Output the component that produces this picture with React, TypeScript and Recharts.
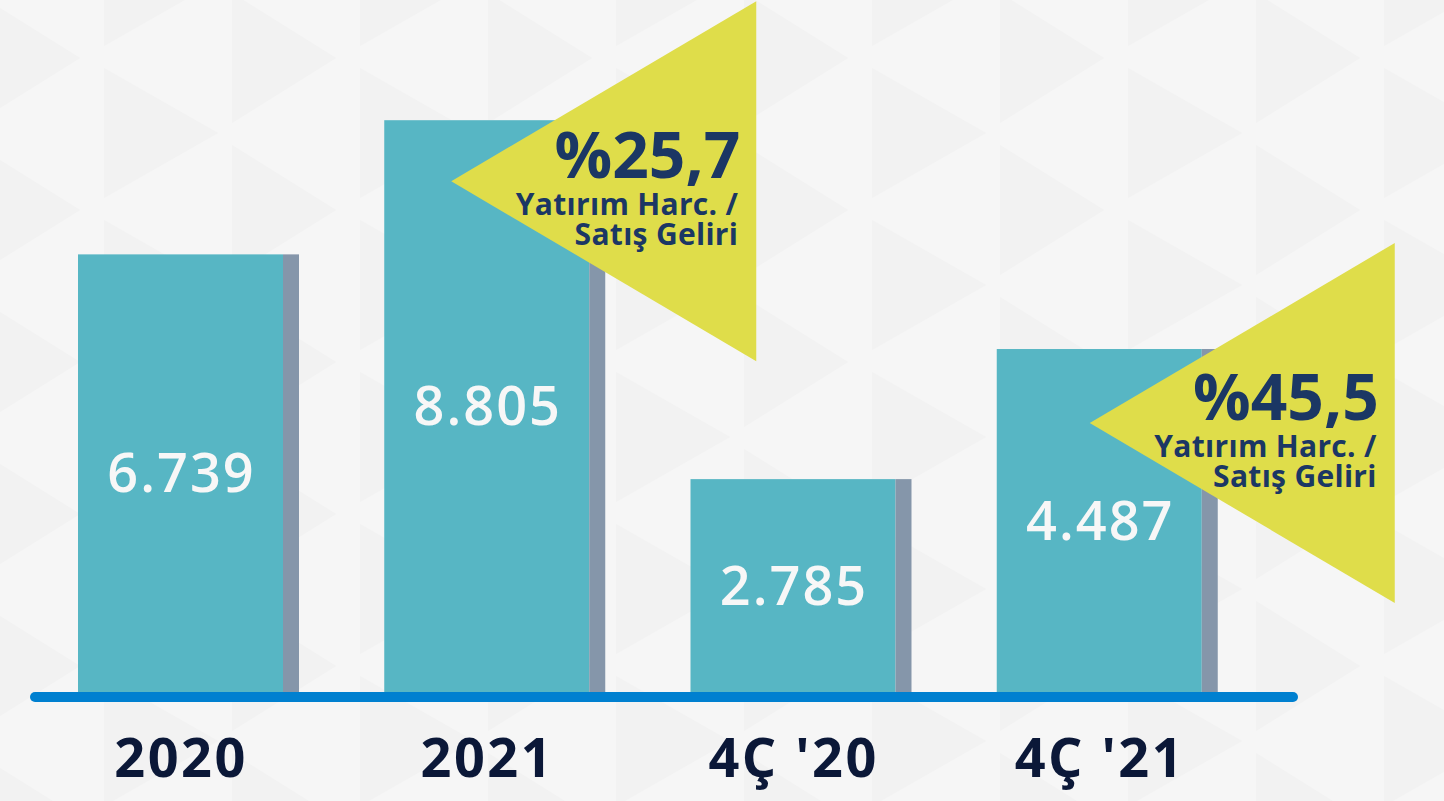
import React from "react";
import { BarChart, Bar, XAxis, YAxis, LabelList } from "recharts";

const categories = ["2020", "2021", "4Ç '20", "4Ç '21"];
const annualValues = [6739, 8805, null, null];
const quarterValues = [null, null, 2785, 4487];
const valueLabels = ["6.739", "8.805", "2.785", "4.487"];
const ratioLabels = [null, "%25,7", null, "%45,5"];
const ratioCaption = ["Yatırım Harc. /", "Satış Geliri"];

const TEAL = "#57b6c4";
const SHADE = "#8596aa";
const LINE = "#0080d0";
const NAVY = "#0b1838";
const CALLOUT_TEXT = "#1b3764";
const YELLOW = "#dfdd4a";
const SHADE_W = 16;
const FONT = '"Open Sans", "Noto Sans", sans-serif';

// arrow tip of the yellow callout, relative to the top-right corner of the teal face
const calloutTip: Record<string, { dx: number; dy: number }> = {
  "%25,7": { dx: -138, dy: 61 },
  "%45,5": { dx: -112, dy: 74 },
};

const data = categories.map((name, i) => ({
  name,
  annual: annualValues[i],
  quarter: quarterValues[i],
  annualLabel: annualValues[i] != null ? valueLabels[i] : null,
  quarterLabel: quarterValues[i] != null ? valueLabels[i] : null,
  ratio: ratioLabels[i],
}));

const box = (props: any) => {
  const vb = props.viewBox ?? props;
  return { x: vb.x, y: vb.y, width: vb.width, height: vb.height };
};

const ShadedBar = (props: any) => {
  const { x, y, width, height } = props;
  if (!height || height <= 0) return null;
  return (
    <g>
      <rect x={x} y={y} width={width - SHADE_W} height={height} fill={TEAL} />
      <rect x={x + width - SHADE_W} y={y} width={SHADE_W} height={height} fill={SHADE} />
    </g>
  );
};

const ValueLabel = (props: any) => {
  if (props.value == null) return null;
  const { x, y, width, height } = box(props);
  return (
    <text
      x={x + (width - SHADE_W) / 2 + 1}
      y={y + height / 2 + 19}
      textAnchor="middle"
      fill="#f7f7f7"
      fontSize={54}
      fontWeight={600}
      letterSpacing={2}
      fontFamily={FONT}
    >
      {props.value}
    </text>
  );
};

const Callout = (props: any) => {
  const tip = props.value != null ? calloutTip[props.value] : null;
  if (!tip) return null;
  const { x, y, width } = box(props);
  const ax = x + width - SHADE_W + tip.dx;
  const ay = y + tip.dy;
  const tx = ax + 289;
  const caption = {
    textAnchor: "end" as const,
    fill: CALLOUT_TEXT,
    fontSize: 30,
    fontWeight: 700,
    letterSpacing: 0.3,
    fontFamily: FONT,
  };
  return (
    <g>
      <polygon points={`${ax},${ay} ${ax + 305},${ay - 180} ${ax + 305},${ay + 180}`} fill={YELLOW} />
      <text x={tx} y={ay - 3} textAnchor="end" fill={CALLOUT_TEXT} fontSize={64} fontWeight={700} fontFamily={FONT}>
        {props.value}
      </text>
      <text x={tx - 2} y={ay + 34} {...caption}>
        {ratioCaption[0]}
      </text>
      <text x={tx - 2} y={ay + 64} {...caption}>
        {ratioCaption[1]}
      </text>
    </g>
  );
};

const CategoryTick = (props: any) => {
  const { x, y, payload } = props;
  return (
    <text
      x={x - SHADE_W / 2 + 1}
      y={y + 85}
      textAnchor="middle"
      fill={NAVY}
      fontSize={54}
      fontWeight={700}
      letterSpacing={2.5}
      fontFamily={FONT}
    >
      {payload.value}
    </text>
  );
};

function Backdrop() {
  return (
    <svg width={1444} height={801} style={{ position: "absolute", left: 0, top: 0 }}>
      <defs>
        <pattern id="tri" x={-24} y={0} width={256} height={152} patternUnits="userSpaceOnUse">
          <rect width={256} height={152} fill="#f6f6f6" />
          <polygon points="0,-94 104,-94 0,-29" fill="#f2f2f2" />
          <polygon points="0,-7 104,58 0,123" fill="#f2f2f2" />
          <polygon points="0,145 104,210 0,275" fill="#f2f2f2" />
          <polygon points="128,-84 242,-19 128,46" fill="#f2f2f2" />
          <polygon points="128,68 242,133 128,198" fill="#f2f2f2" />
        </pattern>
      </defs>
      <rect width={1444} height={801} fill="url(#tri)" />
    </svg>
  );
}

export default function App() {
  return (
    <div
      style={{
        position: "absolute",
        left: 0,
        top: 0,
        width: 1444,
        height: 801,
        overflow: "hidden",
        background: "#f5f5f5",
      }}
    >
      <Backdrop />
      <div style={{ position: "absolute", left: 0, top: 0 }}>
        <BarChart
          width={1444}
          height={801}
          data={data}
          margin={{ top: 0, right: 151, bottom: 0, left: 35 }}
          barSize={221}
          barGap={-221}
        >
          <XAxis
            dataKey="name"
            height={109}
            interval={0}
            tickLine={false}
            tickSize={0}
            tickMargin={0}
            padding={{ left: 0, right: 33 }}
            axisLine={{
              stroke: LINE,
              strokeWidth: 10,
              strokeLinecap: "round",
              transform: "translate(0,5)",
            }}
            tick={<CategoryTick />}
          />
          <YAxis yAxisId="annual" hide domain={[0, 10656]} />
          <YAxis yAxisId="quarter" hide domain={[0, 9053]} />
          <Bar dataKey="annual" yAxisId="annual" shape={<ShadedBar />} isAnimationActive={false}>
            <LabelList dataKey="annualLabel" content={<ValueLabel />} />
            <LabelList dataKey="ratio" content={<Callout />} />
          </Bar>
          <Bar dataKey="quarter" yAxisId="quarter" shape={<ShadedBar />} isAnimationActive={false}>
            <LabelList dataKey="quarterLabel" content={<ValueLabel />} />
            <LabelList dataKey="ratio" content={<Callout />} />
          </Bar>
        </BarChart>
      </div>
    </div>
  );
}
